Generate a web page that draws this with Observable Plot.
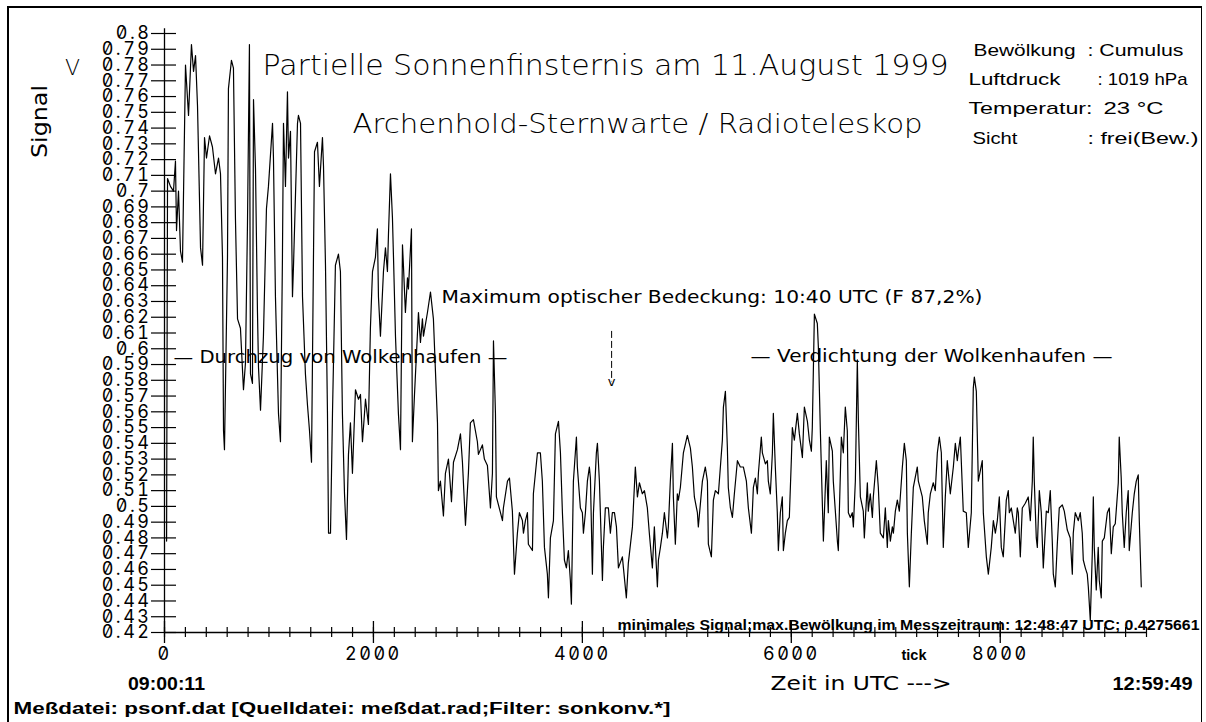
<!DOCTYPE html>
<html><head><meta charset="utf-8">
<script src="https://cdn.jsdelivr.net/npm/d3@7"></script>
<script src="https://cdn.jsdelivr.net/npm/@observablehq/plot@0.6"></script>
<style>
html,body{margin:0;padding:0;background:#fff;}
#wrap{position:relative;width:1206px;height:722px;overflow:hidden;background:#fff;}
#chart{position:absolute;left:0;top:0;}
#border{position:absolute;left:7px;top:6px;width:1195px;height:760px;border-left:2px solid #000;border-top:2px solid #000;border-right:1px solid #000;box-sizing:border-box;pointer-events:none;}
g[aria-label="y-axis tick label"] text, g[aria-label="x-axis tick label"] text{letter-spacing:2.5px;font-feature-settings:"zero" 1,"tnum" 1;}
</style></head>
<body><div id="wrap"><div id="chart"></div><div id="border"></div></div>
<script>
// ---- data: sample index ("tick") and signal in V ----
const tick = [20,29,57,86,105,115,134,153,172,201,230,258,278,297,316,345,364,383,402,431,459,488,517,536,555,565,574,603,612,641,660,679,699,727,756,775,794,813,823,842,852,871,890,900,919,947,976,995,1034,1043,1062,1091,1110,1129,1139,1158,1177,1187,1206,1225,1235,1273,1282,1302,1321,1349,1369,1388,1407,1426,1436,1464,1483,1512,1522,1541,1560,1570,1589,1608,1636,1665,1684,1703,1723,1742,1761,1780,1799,1828,1857,1876,1895,1924,1952,1971,1991,2019,2038,2048,2067,2096,2115,2134,2144,2163,2182,2192,2211,2239,2259,2278,2287,2306,2326,2335,2364,2373,2393,2412,2431,2450,2469,2479,2517,2546,2574,2613,2622,2641,2670,2689,2718,2747,2766,2804,2833,2852,2881,2909,2928,2957,2995,3005,3043,3062,3091,3120,3139,3149,3168,3177,3216,3235,3244,3283,3302,3330,3350,3378,3397,3426,3436,3455,3474,3483,3522,3531,3570,3598,3617,3637,3665,3675,3694,3723,3742,3771,3790,3809,3828,3847,3866,3885,3895,3914,3943,3952,3981,4000,4010,4029,4048,4067,4077,4096,4106,4134,4144,4163,4192,4201,4220,4249,4268,4287,4307,4326,4345,4383,4393,4421,4440,4479,4507,4527,4546,4574,4594,4622,4641,4670,4689,4718,4728,4747,4766,4785,4814,4823,4842,4862,4871,4890,4909,4919,4938,4967,5005,5034,5053,5072,5101,5110,5149,5177,5197,5206,5235,5254,5273,5302,5340,5350,5369,5388,5397,5417,5436,5455,5484,5512,5541,5570,5589,5618,5637,5656,5675,5685,5713,5723,5752,5771,5780,5799,5819,5828,5847,5866,5876,5895,5914,5924,5943,5962,5981,6000,6010,6029,6058,6077,6106,6125,6154,6173,6192,6201,6221,6249,6259,6278,6307,6335,6354,6364,6393,6402,6441,6450,6479,6498,6517,6536,6546,6565,6584,6594,6613,6632,6642,6661,6689,6699,6728,6737,6756,6776,6785,6814,6833,6852,6881,6900,6919,6929,6948,6967,6977,6996,7015,7034,7063,7082,7101,7111,7130,7149,7168,7206,7216,7254,7273,7302,7311,7331,7359,7378,7398,7417,7436,7455,7474,7493,7522,7551,7570,7589,7599,7618,7637,7646,7675,7694,7723,7742,7752,7771,7790,7828,7838,7867,7886,7914,7934,7953,7972,7991,8010,8029,8058,8077,8087,8106,8125,8144,8163,8173,8192,8211,8240,8268,8288,8307,8316,8326,8345,8355,8374,8393,8412,8441,8460,8479,8498,8508,8527,8546,8565,8594,8613,8642,8670,8690,8699,8718,8747,8766,8785,8795,8814,8833,8843,8862,8881,8891,8900,8919,8938,8948,8967,8977,8996,9025,9044,9063,9082,9101,9130,9139,9158,9168,9187,9206,9225,9235,9264,9283,9302,9321,9331,9350];
const signal = [0.478,0.708,0.703,0.700,0.719,0.675,0.700,0.662,0.655,0.780,0.748,0.793,0.776,0.786,0.754,0.664,0.653,0.734,0.721,0.735,0.728,0.711,0.721,0.711,0.658,0.548,0.536,0.658,0.765,0.783,0.778,0.683,0.619,0.613,0.574,0.591,0.678,0.793,0.584,0.578,0.758,0.714,0.623,0.588,0.561,0.608,0.689,0.703,0.743,0.721,0.633,0.559,0.541,0.658,0.743,0.703,0.763,0.721,0.738,0.633,0.653,0.743,0.748,0.743,0.633,0.584,0.564,0.548,0.528,0.658,0.725,0.731,0.703,0.734,0.716,0.653,0.559,0.483,0.483,0.559,0.653,0.660,0.649,0.559,0.508,0.479,0.533,0.553,0.521,0.574,0.568,0.571,0.541,0.568,0.552,0.613,0.649,0.658,0.676,0.633,0.608,0.649,0.664,0.649,0.673,0.711,0.683,0.658,0.608,0.559,0.536,0.666,0.653,0.623,0.645,0.638,0.676,0.541,0.571,0.597,0.623,0.604,0.619,0.608,0.623,0.636,0.619,0.553,0.510,0.516,0.494,0.521,0.530,0.503,0.528,0.536,0.546,0.528,0.488,0.521,0.553,0.555,0.541,0.533,0.539,0.530,0.526,0.499,0.521,0.605,0.559,0.506,0.496,0.491,0.499,0.516,0.518,0.497,0.457,0.483,0.496,0.491,0.483,0.491,0.496,0.476,0.472,0.508,0.534,0.534,0.516,0.474,0.457,0.442,0.480,0.491,0.546,0.554,0.534,0.496,0.466,0.461,0.472,0.453,0.438,0.516,0.544,0.525,0.499,0.496,0.483,0.496,0.516,0.525,0.518,0.457,0.496,0.534,0.540,0.516,0.453,0.474,0.499,0.499,0.483,0.496,0.496,0.487,0.461,0.468,0.461,0.442,0.464,0.487,0.525,0.506,0.515,0.508,0.510,0.499,0.483,0.461,0.487,0.449,0.466,0.474,0.483,0.496,0.480,0.487,0.516,0.540,0.506,0.476,0.508,0.504,0.512,0.534,0.545,0.537,0.525,0.506,0.496,0.487,0.516,0.525,0.516,0.476,0.468,0.504,0.510,0.508,0.542,0.563,0.573,0.537,0.512,0.499,0.493,0.508,0.529,0.525,0.525,0.516,0.499,0.483,0.512,0.518,0.508,0.521,0.544,0.534,0.527,0.529,0.516,0.508,0.534,0.559,0.525,0.496,0.472,0.496,0.506,0.472,0.483,0.491,0.493,0.529,0.550,0.542,0.559,0.546,0.531,0.563,0.554,0.542,0.535,0.550,0.622,0.616,0.601,0.548,0.478,0.529,0.496,0.544,0.535,0.516,0.478,0.472,0.544,0.534,0.563,0.548,0.496,0.493,0.496,0.487,0.516,0.593,0.554,0.506,0.497,0.480,0.515,0.497,0.508,0.493,0.506,0.529,0.512,0.483,0.480,0.499,0.474,0.491,0.478,0.487,0.483,0.497,0.504,0.497,0.525,0.540,0.529,0.483,0.449,0.483,0.512,0.525,0.516,0.506,0.491,0.476,0.496,0.508,0.515,0.510,0.534,0.544,0.534,0.474,0.506,0.529,0.508,0.525,0.540,0.529,0.535,0.544,0.512,0.497,0.496,0.474,0.496,0.575,0.582,0.573,0.516,0.529,0.496,0.468,0.457,0.474,0.491,0.483,0.491,0.506,0.474,0.468,0.504,0.510,0.496,0.499,0.491,0.483,0.499,0.496,0.468,0.499,0.502,0.506,0.491,0.516,0.544,0.516,0.480,0.474,0.510,0.496,0.461,0.497,0.496,0.510,0.478,0.457,0.449,0.476,0.499,0.501,0.497,0.485,0.480,0.457,0.483,0.496,0.491,0.496,0.483,0.466,0.461,0.457,0.449,0.4275661,0.470,0.506,0.474,0.447,0.474,0.453,0.442,0.478,0.480,0.496,0.499,0.470,0.487,0.489,0.515,0.544,0.518,0.496,0.474,0.496,0.510,0.472,0.496,0.508,0.516,0.520,0.491,0.449];

// ---- axes ----
const yTicks = d3.range(42, 81).map(i => i / 100);
const xMinorTicks = d3.range(0, 9401, 200);
const xMajorTicks = [0, 2000, 4000, 6000, 8000];
const xDomain = [0, 9400];
const yDomain = [0.42, 0.8];

// ---- texts ----
const title = "Partielle Sonnenfinsternis am 11.August 1999";
const subtitle = "Archenhold-Sternwarte / Radioteleskop";
const yLabel = "Signal";
const yUnit = "V";
const weatherLabels = ["Bewölkung", "Luftdruck", "Temperatur:", "Sicht"];
const weatherValues = [": Cumulus", ": 1019 hPa", "23 °C", ": frei(Bew.)"];
const noteMax = "Maximum optischer Bedeckung: 10:40 UTC (F 87,2%)";
const notePhase1 = "— Durchzug von Wolkenhaufen —";
const notePhase2 = "— Verdichtung der Wolkenhaufen —";
const noteMin = "minimales Signal;max.Bewölkung im Messzeitraum: 12:48:47 UTC; 0.4275661";
const xUnit = "tick";
const xLabel = "Zeit in UTC --->";
const timeStart = "09:00:11";
const timeEnd = "12:59:49";
const footer = "Meßdatei: psonf.dat [Quelldatei: meßdat.rad;Filter: sonkonv.*]";
// maximum-of-eclipse arrow (data units)
const arrowTick = 4280, arrowTop = 0.611, arrowBottom = 0.579;

const data = tick.map((t, i) => ({t, v: signal[i]}));
const mono = "Inter";
const thin = "DejaVu Sans";
const round = "Liberation Sans";

function label(str, dx, dy, o = {}) {
  return Plot.text([str], {text: d => d, frameAnchor: "top-left", dx, dy, lineAnchor: "middle", textAnchor: "start", fill: "#000", ...o});
}

const fh = 599; // frame height
const chart = Plot.plot({
  width: 1206, height: 722,
  marginLeft: 164, marginRight: 60, marginTop: 33, marginBottom: 90,
  x: {domain: xDomain, label: null},
  y: {domain: yDomain, label: null},
  style: {background: "transparent", color: "#000", overflow: "visible"},
  marks: [
    Plot.ruleX([0], {y1: 0.42, y2: 0.803, stroke: "#000", strokeWidth: 1.3}),
    Plot.ruleY([0.42], {x1: xDomain[0], x2: xDomain[1], stroke: "#000", strokeWidth: 1.3}),
    Plot.axisY(yTicks, {tickSize: 13, tickPadding: 0, tickFormat: d => String(+d.toFixed(2)), fontFamily: mono, fontSize: 18, strokeWidth: 1.2}),
    Plot.tickY(yTicks, {y: d => d, insetRight: 982 - 12, stroke: "#000", strokeWidth: 1.2}),
    Plot.axisX(xMinorTicks, {tickSize: 5, tickFormat: () => "", strokeWidth: 1.2}),
    Plot.tickX(xMinorTicks, {x: d => d, insetTop: fh - 5, stroke: "#000", strokeWidth: 1.2}),
    Plot.axisX(xMajorTicks, {tickSize: 11, tickPadding: 4, tickFormat: d => String(d), fontFamily: mono, fontSize: 18, strokeWidth: 1.3}),
    Plot.tickX(xMajorTicks, {x: d => d, insetTop: fh - 11, stroke: "#000", strokeWidth: 1.3}),
    Plot.line(data, {x: "t", y: "v", stroke: "#000", strokeWidth: 1.2}),
    Plot.ruleX([arrowTick], {y1: arrowTop, y2: arrowBottom, stroke: "#000", strokeWidth: 1, strokeDasharray: "7,3"}),
    Plot.text([arrowTick], {x: d => d, y: arrowBottom, text: () => "v", lineAnchor: "bottom", dy: 4, fontSize: 13, fontFamily: thin, fill: "#000"}),
    label(title, 441, 32, {textAnchor: "middle", fontSize: 29, fontFamily: thin, fontWeight: 200}),
    label(subtitle, 473, 91, {textAnchor: "middle", fontSize: 27, fontFamily: thin, fontWeight: 200}),
    label(weatherLabels[0], 809, 17, {fontSize: 17, fontFamily: round}),
    label(weatherValues[0], 923, 17, {fontSize: 17, fontFamily: round}),
    label(weatherLabels[1], 804, 46, {fontSize: 17, fontFamily: round}),
    label(weatherValues[1], 933, 46, {fontSize: 17, fontFamily: round}),
    label(weatherLabels[2], 804, 75, {fontSize: 17, fontFamily: round}),
    label(weatherValues[2], 939, 75, {fontSize: 17, fontFamily: round}),
    label(weatherLabels[3], 808, 105, {fontSize: 17, fontFamily: round}),
    label(weatherValues[3], 923, 105, {fontSize: 17, fontFamily: round}),
    label(yLabel, -125, 88, {textAnchor: "middle", rotate: -90, fontSize: 22, fontFamily: thin}),
    label(yUnit, -92, 34, {textAnchor: "middle", fontSize: 22, fontFamily: thin, fontWeight: 200}),
    label(noteMax, 277, 264, {fontSize: 18, fontFamily: thin}),
    label(notePhase1, 9, 324, {fontSize: 18, fontFamily: thin}),
    label(notePhase2, 586, 323, {fontSize: 18, fontFamily: thin}),
    label(noteMin, 453, 592, {fontSize: 14, fontFamily: round, fontWeight: "bold"}),
    label(xUnit, 737, 622, {fontSize: 14, fontFamily: round, fontWeight: "bold"}),
    label(xLabel, 606, 650, {fontSize: 20, fontFamily: thin}),
    label(timeStart, 2, 650, {textAnchor: "middle", fontSize: 19, fontFamily: round, fontWeight: "bold"}),
    label(timeEnd, 948, 650, {fontSize: 19, fontFamily: round, fontWeight: "bold"}),
    label(footer, -151, 675, {fontSize: 16, fontFamily: round, fontWeight: "bold"})
  ]
});
document.getElementById("chart").appendChild(chart);

// fit annotation widths to the reference
const widths = new Map([
  [title, 686], [subtitle, 570],
  [weatherLabels[0], 102], [weatherValues[0], 96],
  [weatherLabels[1], 92], [weatherValues[1], 90],
  [weatherLabels[2], 124], [weatherValues[2], 60],
  [weatherLabels[3], 45], [weatherValues[3], 111],
  [yLabel, 73], [noteMax, 541], [notePhase1, 334], [notePhase2, 362],
  [noteMin, 582], [xLabel, 181], [timeStart, 77], [timeEnd, 80], [footer, 657], [xUnit, 25]
]);
chart.querySelectorAll("text").forEach(el => {
  const w = widths.get(el.textContent);
  if (w) { el.setAttribute("textLength", w); el.setAttribute("lengthAdjust", "spacingAndGlyphs"); }
});
</script>
</body></html>
